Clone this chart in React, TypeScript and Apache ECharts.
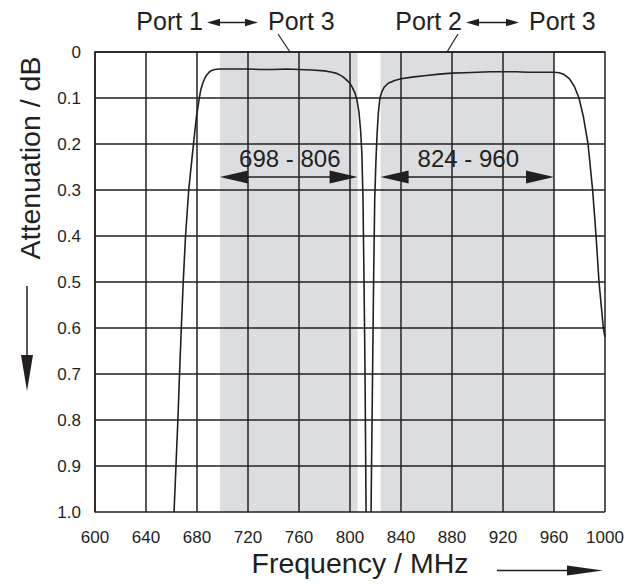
import React, { useEffect, useRef } from "react";
import * as echarts from "echarts";

// ---- data ----
const X_MIN = 600;
const X_MAX = 1000;
const X_STEP = 40;
const Y_MIN = 0;
const Y_MAX = 1;
const Y_STEP = 0.1;
const Y_TICK_LABELS = ["0", "0.1", "0.2", "0.3", "0.4", "0.5", "0.6", "0.7", "0.8", "0.9", "1.0"];

// Port 1 <-> Port 3 (low band) transmission curve: [MHz, dB]
const LOW_CURVE: [number, number][] = [
  [662, 1.0], [663.5, 0.9], [665, 0.8], [666.3, 0.7], [667.7, 0.6], [669.2, 0.5],
  [671, 0.4], [673.5, 0.3], [676.5, 0.22], [678, 0.18], [679.6, 0.14], [681, 0.115],
  [681.8, 0.1], [683, 0.082], [684.5, 0.068], [686, 0.058], [687.6, 0.05], [689.5, 0.044],
  [691.5, 0.04], [694, 0.038], [698, 0.037], [710, 0.037], [720, 0.037], [730, 0.038],
  [740, 0.038], [750, 0.037], [760, 0.038], [770, 0.039], [780, 0.041], [786, 0.044],
  [790, 0.047], [794, 0.053], [797, 0.06], [800, 0.068], [802, 0.078], [804, 0.09],
  [805.5, 0.105], [807, 0.13], [808.3, 0.17], [809.3, 0.22], [810.2, 0.32], [811, 0.5],
  [811.8, 0.7], [812.6, 1.0],
];

// Port 2 <-> Port 3 (high band) transmission curve: [MHz, dB]
const HIGH_CURVE: [number, number][] = [
  [816.5, 1.0], [817.5, 0.75], [818.5, 0.5], [819.4, 0.32], [820.3, 0.24], [821.2, 0.18],
  [822.3, 0.13], [823.5, 0.1], [825, 0.086], [827, 0.076], [830, 0.068], [835, 0.062],
  [840, 0.058], [850, 0.054], [860, 0.051], [870, 0.048], [880, 0.046], [890, 0.045],
  [900, 0.044], [910, 0.043], [920, 0.043], [930, 0.043], [940, 0.044], [950, 0.044],
  [960, 0.044], [964, 0.045], [968, 0.049], [972, 0.058], [976, 0.075], [979.6, 0.1],
  [983, 0.14], [986.7, 0.2], [990.3, 0.3], [993, 0.4], [995.3, 0.5], [998.7, 0.6],
  [1000, 0.62],
];

// Shaded pass bands [from, to] MHz and their dimension labels
const BANDS: [number, number][] = [
  [698, 806],
  [824, 960],
];
const BAND_LABELS = ["698 - 806", "824 - 960"];
const DIM_LEVEL = 0.272;

const INK = "#231f20";
const SHADE = "#dcdde0";
const FONT = "'Liberation Sans', Arial, Helvetica, sans-serif";

export default function App() {
  const ref = useRef<HTMLDivElement>(null);

  useEffect(() => {
    if (!ref.current) return;
    const chart = echarts.init(ref.current, undefined, { renderer: "svg" });

    const bandData = BANDS.map((b) => [b[0], b[1], DIM_LEVEL]);

    const topArrow = (x1: number, x2: number, y: number) => [
      { type: "line", shape: { x1: x1 + 8, y1: y, x2: x2 - 8, y2: y }, style: { stroke: INK, lineWidth: 1.3 } },
      { type: "polygon", shape: { points: [[x1, y], [x1 + 13, y - 3.7], [x1 + 13, y + 3.7]] }, style: { fill: INK } },
      { type: "polygon", shape: { points: [[x2, y], [x2 - 13, y - 3.7], [x2 - 13, y + 3.7]] }, style: { fill: INK } },
    ];

    const txt = (text: string, x: number, y: number, align: string, size: number, rotation = 0) => ({
      type: "text",
      x,
      y,
      rotation,
      style: { text, fill: INK, fontSize: size, fontFamily: FONT, align, verticalAlign: "middle" },
    });

    chart.setOption({
      animation: false,
      grid: { left: 95, right: 32, top: 52, bottom: 75, show: false },
      xAxis: {
        type: "value",
        min: X_MIN,
        max: X_MAX,
        interval: X_STEP,
        z: 3,
        axisLine: { show: true, lineStyle: { color: INK, width: 1.5 } },
        axisTick: { show: false },
        splitLine: { show: true, showMinLine: true, showMaxLine: true, lineStyle: { color: INK, width: 1.5 } },
        axisLabel: {
          color: INK,
          fontSize: 17,
          fontFamily: FONT,
          margin: 17,
          formatter: (v: number) => String(Math.round(v)),
        },
      },
      yAxis: {
        type: "value",
        min: Y_MIN,
        max: Y_MAX,
        interval: Y_STEP,
        inverse: true,
        z: 3,
        axisLine: { show: true, lineStyle: { color: INK, width: 1.5 } },
        axisTick: { show: false },
        splitLine: { show: true, showMinLine: true, showMaxLine: true, lineStyle: { color: INK, width: 1.5 } },
        axisLabel: {
          color: INK,
          fontSize: 17,
          fontFamily: FONT,
          margin: 14,
          formatter: (v: number) => Y_TICK_LABELS[Math.round(v / Y_STEP)] ?? String(v),
        },
      },
      series: [
        {
          type: "custom",
          name: "bands",
          z: 1,
          silent: true,
          encode: { x: [0, 1], y: 2 },
          data: bandData,
          renderItem: (params: any, api: any) => {
            const p0 = api.coord([api.value(0), Y_MIN]);
            const p1 = api.coord([api.value(1), Y_MAX]);
            return {
              type: "rect",
              shape: { x: p0[0], y: p0[1], width: p1[0] - p0[0], height: p1[1] - p0[1] },
              style: { fill: SHADE },
            };
          },
        },
        {
          type: "line",
          name: "Port 1 - Port 3",
          z: 5,
          data: LOW_CURVE,
          showSymbol: false,
          silent: true,
          lineStyle: { color: INK, width: 1.6 },
        },
        {
          type: "line",
          name: "Port 2 - Port 3",
          z: 5,
          data: HIGH_CURVE,
          showSymbol: false,
          silent: true,
          lineStyle: { color: INK, width: 1.6 },
        },
        {
          type: "custom",
          name: "dimensions",
          z: 6,
          silent: true,
          encode: { x: [0, 1], y: 2 },
          data: bandData,
          renderItem: (params: any, api: any) => {
            const a = api.coord([api.value(0), api.value(2)]);
            const b = api.coord([api.value(1), api.value(2)]);
            const L = 28;
            const H = 6.5;
            return {
              type: "group",
              children: [
                { type: "line", shape: { x1: a[0] + 20, y1: a[1], x2: b[0] - 20, y2: b[1] }, style: { stroke: INK, lineWidth: 1.5 } },
                { type: "polygon", shape: { points: [[a[0], a[1]], [a[0] + L, a[1] - H], [a[0] + L, a[1] + H]] }, style: { fill: INK } },
                { type: "polygon", shape: { points: [[b[0], b[1]], [b[0] - L, b[1] - H], [b[0] - L, b[1] + H]] }, style: { fill: INK } },
                {
                  type: "text",
                  x: (a[0] + b[0]) / 2 + 1,
                  y: a[1] - 19,
                  style: {
                    text: BAND_LABELS[params.dataIndex],
                    fill: INK,
                    fontSize: 24,
                    fontFamily: FONT,
                    align: "center",
                    verticalAlign: "middle",
                  },
                },
              ],
            };
          },
        },
      ],
      graphic: [
        // top port labels
        txt("Port 1", 203, 21, "right", 25),
        ...topArrow(207, 258, 22.5),
        txt("Port 3", 268, 21, "left", 25),
        { type: "line", shape: { x1: 278, y1: 34, x2: 290, y2: 52 }, style: { stroke: INK, lineWidth: 1.2 } },
        txt("Port 2", 462, 21, "right", 25),
        ...topArrow(466, 519, 22.5),
        txt("Port 3", 529, 21, "left", 25),
        { type: "line", shape: { x1: 458, y1: 34, x2: 447, y2: 52 }, style: { stroke: INK, lineWidth: 1.2 } },
        // y title and arrow
        txt("Attenuation / dB", 30, 158, "center", 28.5, Math.PI / 2),
        { type: "line", shape: { x1: 27, y1: 286, x2: 27, y2: 365 }, style: { stroke: INK, lineWidth: 1.5 } },
        { type: "polygon", shape: { points: [[21, 355], [33, 355], [27, 391]] }, style: { fill: INK } },
        // x title and arrow
        txt("Frequency / MHz", 360, 563, "center", 28.5),
        { type: "line", shape: { x1: 497, y1: 570.5, x2: 575, y2: 570.5 }, style: { stroke: INK, lineWidth: 1.5 } },
        { type: "polygon", shape: { points: [[567, 565.5], [567, 575.5], [603, 570.5]] }, style: { fill: INK } },
      ],
    });

    return () => chart.dispose();
  }, []);

  return (
    <div
      ref={ref}
      style={{ position: "absolute", left: 0, top: 0, width: 637, height: 587, background: "#ffffff" }}
    />
  );
}
